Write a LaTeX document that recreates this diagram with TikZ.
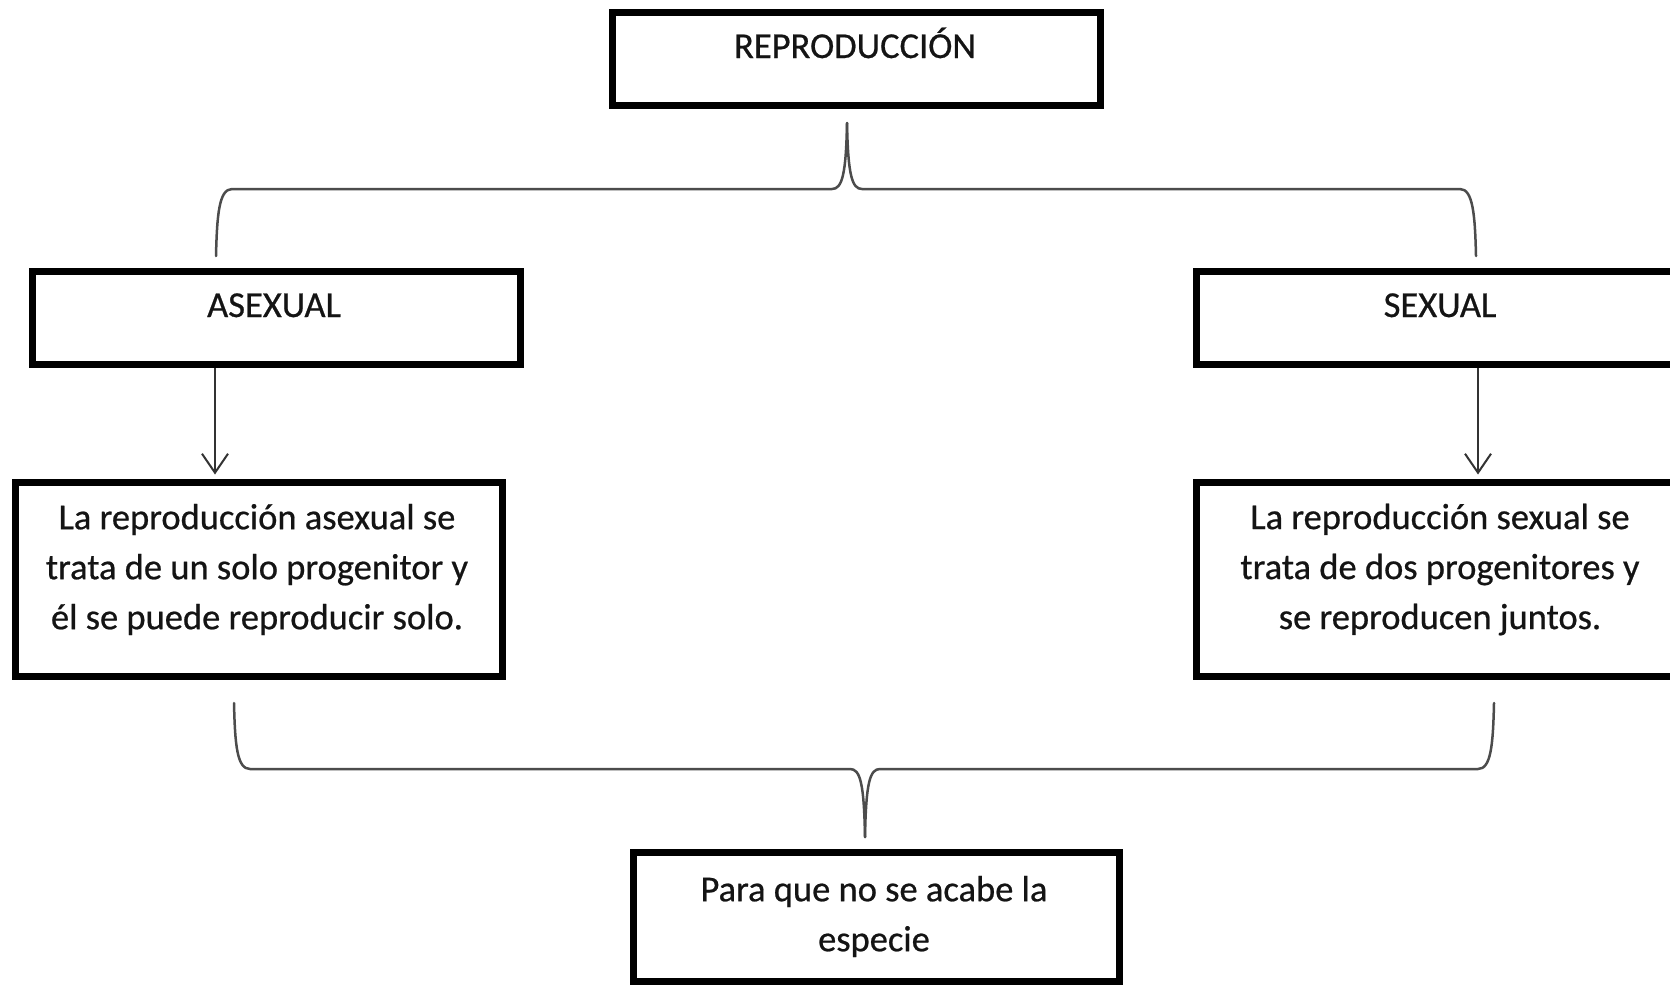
\documentclass[tikz,border=0pt]{standalone}
\usepackage{fontspec}
\setmainfont{Carlito}[FakeBold=0.6]
\usetikzlibrary{arrows.meta}
\begin{document}
\begin{tikzpicture}[x=1pt,y=-1pt,
  box/.style={draw=black, line width=7pt, rectangle, inner sep=0pt, minimum width=488pt, minimum height=93.5pt},
  txt/.style={font=\fontsize{36.5}{50}\selectfont, text=black!92, inner sep=0pt, align=center},
  conn/.style={draw=black!80, line width=2pt, -{Straight Barb[length=19pt,width=26pt]}, shorten >=4.5pt},
  bracepath/.style={draw=black!70, line width=2.5pt, line cap=round, line join=round}]
\useasboundingbox (0,0) rectangle (1670,986);
\fill[white] (0,0) rectangle (1670,986);
\clip (0,0) rectangle (1670,986);

% boxes
\node[box] (rep) at (856.5,58.75) {};
\node[txt, anchor=base] (reptxt) at (855,58) {REPRODUCCIÓN};
\node[box] (asex) at (276,317.75) {};
\node[txt, anchor=base] (asextxt) at (274,317) {ASEXUAL};
\node[box] (sex) at (1440.5,317.75) {};
\node[txt, anchor=base] (sextxt) at (1440,317) {SEXUAL};
\node[box, minimum width=487pt, minimum height=193.5pt] (asexdesc) at (259,579.25) {};
\node[txt] (asexdesctxt) at (257,569.5) {La reproducción asexual se\\trata de un solo progenitor y\\él se puede reproducir solo.};
\node[box, minimum width=487pt, minimum height=193.5pt] (sexdesc) at (1440,579.25) {};
\node[txt] (sexdesctxt) at (1440,569.5) {La reproducción sexual se\\trata de dos progenitores y\\se reproducen juntos.};
\node[box, minimum width=486pt, minimum height=129pt] (fin) at (876.5,917) {};
\node[txt] (fintxt) at (874,916.5) {Para que no se acabe la\\especie};

% arrows
\coordinate (ax) at (215,0);
\coordinate (bx) at (1478,0);
\draw[conn] (asex.south -| ax) -- (asexdesc.north -| ax);
\draw[conn] (sex.south -| bx) -- (sexdesc.north -| bx);

% top brace
\coordinate (tbL) at (216,256);
\coordinate (tbR) at (1476,256);
\coordinate (tbP) at (847,123);
\draw[bracepath] (tbL) .. controls (217,215) and (219,189) .. (232,189) -- (832,189)
  .. controls (842,189) and (846,175) .. (tbP);
\draw[bracepath] (tbP) .. controls (848,175) and (852,189) .. (862,189) -- (1460,189)
  .. controls (1473,189) and (1475,215) .. (tbR);

% bottom brace
\coordinate (bbL) at (234,703);
\coordinate (bbR) at (1494,703);
\coordinate (bbP) at (865,837);
\draw[bracepath] (bbL) .. controls (235,745) and (237,769) .. (250,769) -- (850,769)
  .. controls (860,769) and (864,782) .. (bbP);
\draw[bracepath] (bbP) .. controls (866,782) and (870,769) .. (880,769) -- (1478,769)
  .. controls (1491,769) and (1493,745) .. (bbR);
\end{tikzpicture}
\end{document}
